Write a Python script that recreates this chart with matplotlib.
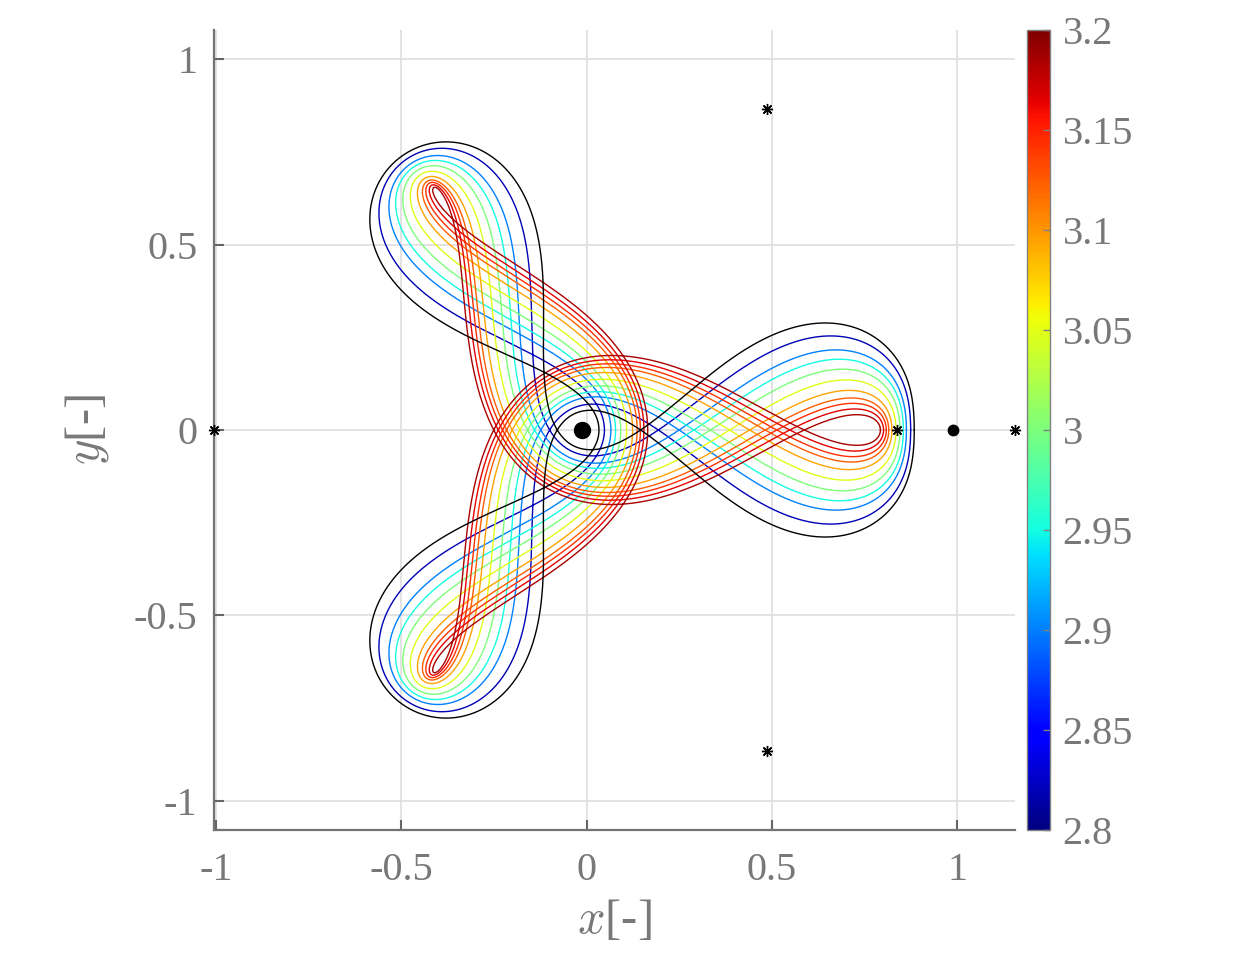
import math
import numpy as np
import matplotlib
matplotlib.use('Agg')
import matplotlib.pyplot as plt
from matplotlib.cm import ScalarMappable
from matplotlib.colors import Normalize

# Earth-Moon mass ratio
MU = 0.01215

jacobi = [2.82, 2.9, 2.95, 3.0, 3.05, 3.095, 3.125, 3.145, 3.165, 3.185]
tip_guess = [0.8743, 0.8628, 0.8546, 0.8454, 0.8349, 0.8237, 0.8150, 0.8090, 0.8015, 0.7965]

# the black reference orbit
black_jacobi = 2.74
black_tip = 0.8839

# primaries and libration points
earth_xy = (-0.01215, 0.0)
moon_xy = (0.98785, 0.0)
lagr_x = [0.8369, 1.1557, -1.0051, 0.4878, 0.4878]
lagr_y = [0.0, 0.0, 0.0, 0.8660, -0.8660]

xticks = [-1, -0.5, 0, 0.5, 1]
xtick_labels = ['-1', '-0.5', '0', '0.5', '1']
cticks = [2.8, 2.85, 2.9, 2.95, 3.0, 3.05, 3.1, 3.15, 3.2]
ctick_labels = ['2.8', '2.85', '2.9', '2.95', '3', '3.05', '3.1', '3.15', '3.2']


def omega(x, y):
    r1 = math.hypot(x + MU, y)
    r2 = math.hypot(x - 1 + MU, y)
    return 0.5 * (x * x + y * y) + (1 - MU) / r1 + MU / r2


def rhs(x, y, vx, vy):
    dx1 = x + MU
    dx2 = x - 1 + MU
    yy = y * y
    r1 = dx1 * dx1 + yy
    r2 = dx2 * dx2 + yy
    g1 = (1 - MU) / (r1 * math.sqrt(r1))
    g2 = MU / (r2 * math.sqrt(r2))
    return (vx, vy, 2 * vy + x - g1 * dx1 - g2 * dx2, -2 * vx + y - (g1 + g2) * y)


def dp_step(s, h):
    # one Dormand-Prince 5(4) step
    k1 = rhs(*s)
    k2 = rhs(*[s[i] + h * (k1[i] / 5) for i in range(4)])
    k3 = rhs(*[s[i] + h * (3 / 40 * k1[i] + 9 / 40 * k2[i]) for i in range(4)])
    k4 = rhs(*[s[i] + h * (44 / 45 * k1[i] - 56 / 15 * k2[i] + 32 / 9 * k3[i]) for i in range(4)])
    k5 = rhs(*[s[i] + h * (19372 / 6561 * k1[i] - 25360 / 2187 * k2[i] + 64448 / 6561 * k3[i]
                           - 212 / 729 * k4[i]) for i in range(4)])
    k6 = rhs(*[s[i] + h * (9017 / 3168 * k1[i] - 355 / 33 * k2[i] + 46732 / 5247 * k3[i]
                           + 49 / 176 * k4[i] - 5103 / 18656 * k5[i]) for i in range(4)])
    new = [s[i] + h * (35 / 384 * k1[i] + 500 / 1113 * k3[i] + 125 / 192 * k4[i]
                       - 2187 / 6784 * k5[i] + 11 / 84 * k6[i]) for i in range(4)]
    k7 = rhs(*new)
    err = max(abs(h * (71 / 57600 * k1[i] - 71 / 16695 * k3[i] + 71 / 1920 * k4[i]
                       - 17253 / 339200 * k5[i] + 22 / 525 * k6[i] - 1 / 40 * k7[i]))
              / (1e-10 + 1e-10 * abs(new[i])) for i in range(4))
    return new, err


def propagate(s, h_max, stop_after=2.0, t_stop=6.0):
    # integrate until the first x-axis crossing after stop_after (half period)
    t, h = 0.0, 1e-3
    pts = [list(s)]
    while t < t_stop:
        new, err = dp_step(s, h)
        if err <= 1.0:
            if t > stop_after and s[1] * new[1] <= 0:
                sc = s
                for _ in range(5):
                    sc, _ = dp_step(sc, -sc[1] / sc[3])
                pts.append(sc)
                return sc, pts
            t += h
            s = new
            pts.append(s)
        fac = 4.0 if err == 0 else 0.9 * err ** -0.2
        h = min(h_max, h * min(4.0, max(0.2, fac)))
    return s, pts


def start_state(C, x0):
    v2 = max(2 * omega(x0, 0.0) - C, 1e-12)
    return [x0, 0.0, 0.0, -math.sqrt(v2)]


def crossing_vx(C, x0):
    sc, _ = propagate(start_state(C, x0), 0.05)
    return sc[2]


def solve_tip(C, guess):
    # secant on the tip position so that the half-period crossing is perpendicular
    xa, xb = guess, guess + 2e-4
    fa, fb = crossing_vx(C, xa), crossing_vx(C, xb)
    for _ in range(25):
        if fb == fa:
            break
        step = -fb * (xb - xa) / (fb - fa)
        step = max(-0.01, min(0.01, step))
        xa, fa = xb, fb
        xb = xb + step
        fb = crossing_vx(C, xb)
        if abs(fb) < 1e-9 or abs(step) < 1e-12:
            break
    return xb


def orbit(C, guess):
    x0 = solve_tip(C, guess)
    _, pts = propagate(start_state(C, x0), 0.004)
    pts = np.array(pts)
    x = np.concatenate([pts[:, 0], pts[::-1, 0]])
    y = np.concatenate([pts[:, 1], -pts[::-1, 1]])
    return x, y


plt.rcParams['font.family'] = ['Liberation Serif', 'DejaVu Serif']
plt.rcParams['mathtext.fontset'] = 'cm'
plt.rcParams['axes.unicode_minus'] = False

fig = plt.figure(figsize=(12.44, 9.58), dpi=100)
ax = fig.add_axes([214 / 1244, 128 / 958, 801 / 1244, 800 / 958])
cax = fig.add_axes([1027 / 1244, 128 / 958, 23 / 1244, 800 / 958])

cmap = plt.get_cmap('jet')
norm = Normalize(2.8, 3.2)

for C, g in zip(jacobi, tip_guess):
    x, y = orbit(C, g)
    ax.plot(x, y, color=cmap(norm(C)), lw=1.0, zorder=3)

bx, by = orbit(black_jacobi, black_tip)
ax.plot(bx, by, color='k', lw=1.0, zorder=4)

ax.plot(lagr_x, lagr_y, ls='none', marker=(8, 2, 0), ms=8, mew=1, color='k', zorder=6, clip_on=False)
ax.plot(*earth_xy, 'o', ms=11.5, color='k', zorder=6)
ax.plot(*moon_xy, 'o', ms=7.5, color='k', zorder=6)

ax.set_xlim(-1.0051, 1.1557)
ax.set_ylim(-1.0795, 1.0795)
ax.set_xticks(xticks)
ax.set_xticklabels(xtick_labels)
ax.set_yticks(xticks)
ax.set_yticklabels(xtick_labels)
ax.grid(True, color='0.87', lw=1.2)
ax.set_axisbelow(True)
for side in ['top', 'right']:
    ax.spines[side].set_visible(False)
for side in ['left', 'bottom']:
    ax.spines[side].set_color('0.45')
    ax.spines[side].set_linewidth(1.6)
ax.tick_params(direction='in', length=7, width=1.5, color='0.4', labelcolor='0.47', labelsize=29)
ax.tick_params(axis='x', pad=16)
ax.tick_params(axis='y', pad=12)
ax.set_xlabel('$x$[-]', fontsize=35, color='0.47', labelpad=6)
ax.set_ylabel('$y$[-]', fontsize=35, color='0.47', labelpad=16)

sm = ScalarMappable(norm=norm, cmap=cmap)
cb = fig.colorbar(sm, cax=cax, ticks=cticks)
cb.set_ticklabels(ctick_labels)
cb.outline.set_edgecolor('0.5')
cb.outline.set_linewidth(1.0)
cax.tick_params(direction='in', length=5, width=1, color='0.5', labelcolor='0.47', labelsize=29, pad=9)

fig.savefig('out.png', dpi=100)
